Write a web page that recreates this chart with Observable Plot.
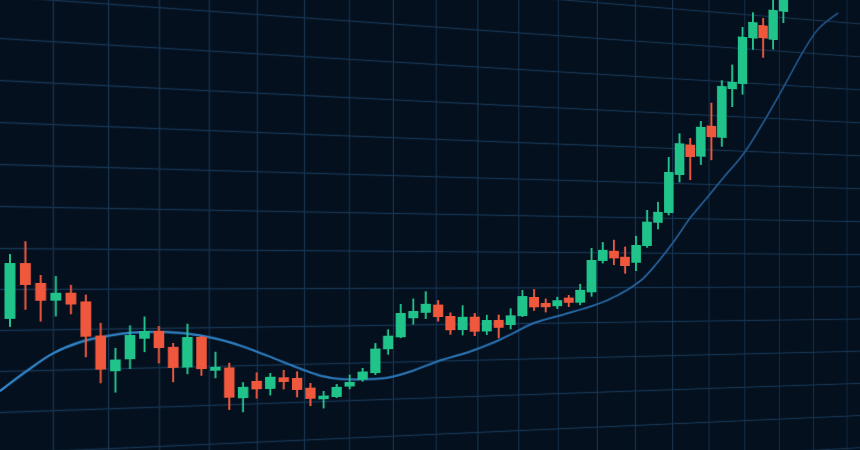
<!DOCTYPE html>
<html>
<head>
<meta charset="utf-8">
<script src="https://cdn.jsdelivr.net/npm/d3@7"></script>
<script src="https://cdn.jsdelivr.net/npm/@observablehq/plot@0.6"></script>
<style>
  html, body { margin: 0; padding: 0; width: 860px; height: 450px; overflow: hidden; background: #04101e; }
  #chart {
    position: absolute; left: 0; top: -76px; width: 1100px; height: 574px;
    transform-origin: 0 353px;
    /* screen seen at an angle: the right side recedes */
    transform: matrix3d(1,0,0,0.00025, 0,1,0,0, 0,0,1,0, 0,0,0,1);
    filter: blur(0.45px);
  }
</style>
</head>
<body>
<div id="chart"></div>
<script>
// ---- data ----
const index = d3.range(63);
const open  = [158,214,194,176,184,175,140,103,115,136,144,127,105,137,101,104,71,89,80,92,91,80,67,69,80,87,94,120,133,154,160,169,156,140,155,138,151,145,155,177,170,166,176,170,182,219,231,224,217,237,265,277,323,360,346,384,370,430,437,494,511,494,530];
const high  = [223,236,202,201,192,182,153,127,150,159,149,131,151,138,121,109,88,98,97,100,98,85,76,83,93,100,127,142,170,176,184,174,160,168,159,157,157,164,185,186,175,177,179,192,234,241,244,236,249,280,290,344,373,368,389,412,440,460,507,526,520,544,554];
const low   = [150,167,155,160,162,118,91,81,105,122,110,90,98,96,93,59,56,70,73,79,70,60,57,68,77,85,92,114,132,147,153,150,135,134,133,134,130,140,154,161,159,163,165,167,177,216,214,204,207,235,257,274,314,317,336,342,359,408,424,480,471,482,516];
const close = [214,192,176,184,172,139,105,115,140,144,126,105,137,103,105,72,83,80,93,87,78,68,71,80,85,96,121,135,160,162,170,155,140,155,138,151,142,156,178,165,165,173,170,185,220,232,222,213,238,266,278,326,361,345,382,370,433,439,495,514,495,531,549];

// moving-average line (position in candle units, value)
const maIndex = [-0.6,1.1,2.8,4.6,6.5,8.2,10.6,12.9,15.3,17.8,20.3,21.8,23.3,25.1,27,29,31.2,33.4,35.6,37.2,38.9,41.3,45.4,48.4,49.9,51.4,53,54.6,56.1,58.1,60,62,64,65.5,67.5];
const maValue = [87,106,123,134,140,143,143,139,130,116,101,93,89,88,89,96,107,115,126,136,147,156,173,196,217,242,272,297,321,352,391,436,483,512,534];

// grid tick positions
const gridXTicks = [2.84,6.53,10.04,13.57,17.06,20.55,23.98,27.42,30.84,34.26,37.68,41.1,44.52,47.94,51.36,54.78,58.2,61.62,65.04,68.46];
const gridYTicks = [-17,24,65,106,147,188,229,271,313,355,397,439,481,523];

// ---- build ----
const GREEN = "#20c48b", RED = "#f0583e";
const candles = index.map(i => ({i, open: open[i], high: high[i], low: low[i], close: close[i]}));
const up = candles.filter(d => d.close >= d.open);
const down = candles.filter(d => d.close < d.open);
const ma = maIndex.map((x, k) => ({x, v: maValue[k]}));

// the far (blurred) candles look a little wider in the photo
const bodyW = d => 11 + d.i * 0.055;
const wickW = d => 2 + d.i * 0.015;

// gradient for the moving-average line (brighter where the screen is nearer)
function maGradient() {
  const defs = d3.create("svg:defs");
  const g = defs.append("linearGradient")
    .attr("id", "maGrad").attr("gradientUnits", "userSpaceOnUse")
    .attr("x1", 0).attr("x2", 1100).attr("y1", 0).attr("y2", 0);
  g.append("stop").attr("offset", 0).attr("stop-color", "#2f84c8");
  g.append("stop").attr("offset", 0.55).attr("stop-color", "#2669a6");
  g.append("stop").attr("offset", 1).attr("stop-color", "#1c4b7c");
  return defs.node();
}

const chart = Plot.plot({
  width: 1100,
  height: 574,
  margin: 0,
  style: {background: "#04101e", overflow: "visible"},
  x: {domain: [-0.611, 70.13], axis: null},
  y: {domain: [-21, 553], axis: null},
  marks: [
    maGradient,
    Plot.ruleX(gridXTicks, {stroke: "#15334f", strokeWidth: 1.4}),
    Plot.ruleY(gridYTicks, {stroke: "#15334f", strokeWidth: 1.4}),
    Plot.line(ma, {x: "x", y: "v", stroke: "url(#maGrad)", strokeWidth: 2.4, curve: "catmull-rom"}),
    Plot.ruleX(up,   {x: "i", y1: "low",  y2: "high",  stroke: GREEN, strokeWidth: wickW}),
    Plot.ruleX(down, {x: "i", y1: "low",  y2: "high",  stroke: RED,   strokeWidth: wickW}),
    Plot.ruleX(up,   {x: "i", y1: "open", y2: "close", stroke: GREEN, strokeWidth: bodyW}),
    Plot.ruleX(down, {x: "i", y1: "open", y2: "close", stroke: RED,   strokeWidth: bodyW})
  ]
});
document.getElementById("chart").appendChild(chart);
</script>
</body>
</html>
